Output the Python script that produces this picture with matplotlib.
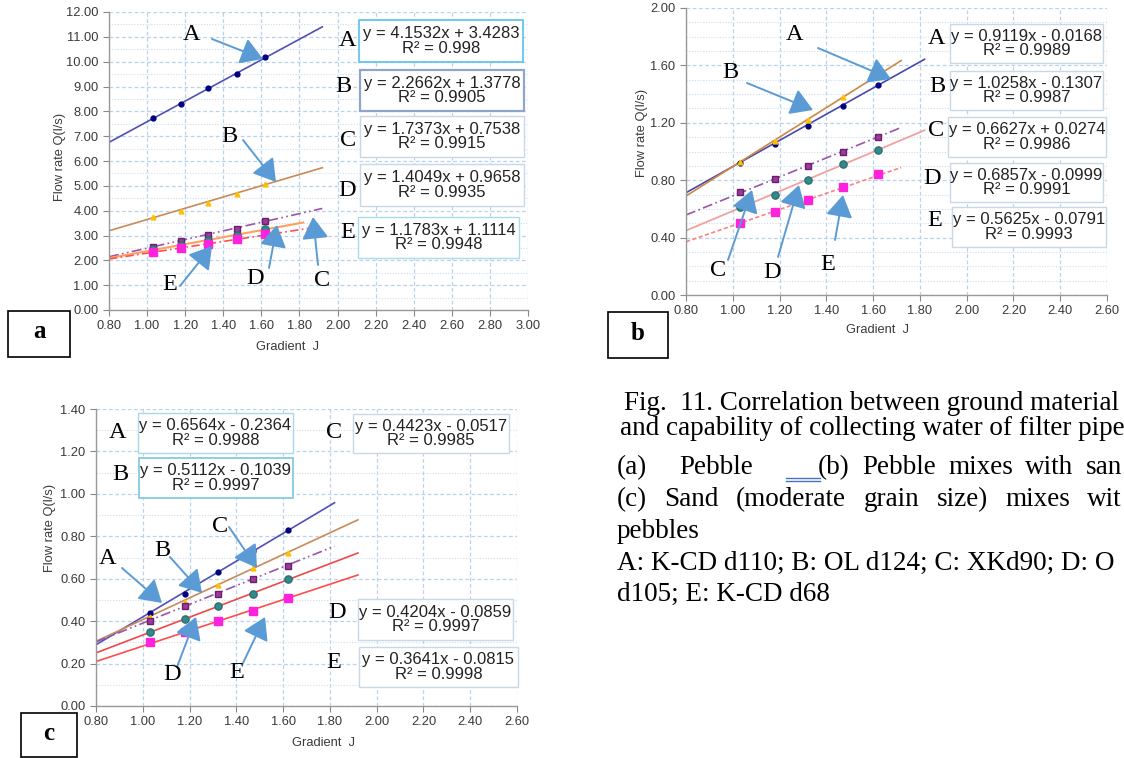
import numpy as np
import matplotlib
matplotlib.use("Agg")
import matplotlib.pyplot as plt
from matplotlib.patches import Rectangle, FancyArrowPatch
from matplotlib.ticker import MultipleLocator, FormatStrFormatter

W, H = 1124, 758
SANS = "Liberation Sans"
SERIF = "Liberation Serif"

# ---------------- data ----------------
series_names = ["A", "B", "C", "D", "E"]
gradient_J = [1.03, 1.18, 1.32, 1.47, 1.62]

# panel a (Pebble)
qa_A = [7.75, 8.28, 8.92, 9.50, 10.17]
qa_B = [3.75, 3.98, 4.30, 4.68, 5.07]
qa_C = [2.55, 2.78, 3.02, 3.28, 3.58]
qa_D = [2.45, 2.62, 2.82, 3.02, 3.25]
qa_E = [2.35, 2.50, 2.65, 2.85, 3.05]
fit_a_slope = [4.1532, 2.2662, 1.7373, 1.4049, 1.1783]
fit_a_icpt = [3.4283, 1.3778, 0.7538, 0.9658, 1.1114]
fit_a_r2 = ["0.998", "0.9905", "0.9915", "0.9935", "0.9948"]

# panel b (Pebble mixes with sand)
qb_A = [0.92, 1.05, 1.18, 1.32, 1.46]
qb_B = [0.93, 1.07, 1.22, 1.38, 1.53]
qb_C = [0.72, 0.81, 0.90, 1.00, 1.10]
qb_D = [0.61, 0.70, 0.80, 0.91, 1.01]
qb_E = [0.50, 0.58, 0.66, 0.75, 0.84]
fit_b_slope = [0.9119, 1.0258, 0.6627, 0.6857, 0.5625]
fit_b_icpt = [-0.0168, -0.1307, 0.0274, -0.0999, -0.0791]
fit_b_r2 = ["0.9989", "0.9987", "0.9986", "0.9991", "0.9993"]

# panel c (Sand mixes with pebbles)
qc_A = [0.44, 0.53, 0.63, 0.73, 0.83]
qc_B = [0.42, 0.49, 0.57, 0.65, 0.72]
qc_C = [0.40, 0.47, 0.53, 0.60, 0.66]
qc_D = [0.35, 0.41, 0.47, 0.53, 0.60]
qc_E = [0.30, 0.35, 0.40, 0.45, 0.51]
fit_c_slope = [0.6564, 0.5112, 0.4423, 0.4204, 0.3641]
fit_c_icpt = [-0.2364, -0.1039, -0.0517, -0.0859, -0.0815]
fit_c_r2 = ["0.9988", "0.9997", "0.9985", "0.9997", "0.9998"]

caption_lines = [
    "Fig.  11. Correlation between ground material",
    "and capability of collecting water of filter pipe",
    "pebbles",
    "A: K-CD d110; B: OL d124; C: XKd90; D: O",
    "d105; E: K-CD d68",
]
caption_line3 = ["(a)", "Pebble", "(b)", "Pebble", "mixes", "with", "san"]
caption_line4 = ["(c)", "Sand", "(moderate", "grain", "size)", "mixes", "wit"]

# ---------------- styles ----------------
marker_style = {
    "A": dict(marker="o", ms=3.5, mfc="#000080", mec="#000080"),
    "B": dict(marker="^", ms=3.5, mfc="#FFC000", mec="#FFC000"),
    "C": dict(marker="s", ms=3.8, mfc="#9B3A9B", mec="#6A1F6A"),
    "D": dict(marker="o", ms=5.2, mfc="#2E8C8C", mec="#2E6E6E"),
    "E": dict(marker="s", ms=5.2, mfc="#FF22DD", mec="#FF22DD"),
}

fig = plt.figure(figsize=(W / 100, H / 100), dpi=100)
fig.patch.set_facecolor("white")


def px_axes(left, top, right, bottom, z=1):
    return fig.add_axes([left / W, 1 - bottom / H, (right - left) / W, (bottom - top) / H], zorder=z)


def eq_text(s, b, r2):
    sign = "+" if b >= 0 else "-"
    return f"y = {s:.4f}x {sign} {abs(b):.4f}\nR\u00b2 = {r2}"


def make_panel(rect, xlim, ylim, ymaj, ymin, series, slopes, icpts, xends, line_styles):
    ax = px_axes(*rect)
    ax.set_xlim(*xlim)
    ax.set_ylim(*ylim)
    ax.xaxis.set_major_locator(MultipleLocator(0.2))
    ax.yaxis.set_major_locator(MultipleLocator(ymaj))
    ax.yaxis.set_minor_locator(MultipleLocator(ymin))
    ax.xaxis.set_major_formatter(FormatStrFormatter("%.2f"))
    ax.yaxis.set_major_formatter(FormatStrFormatter("%.2f"))
    ax.grid(True, which="major", color="#B9D3EC", lw=0.9, ls=(0, (3, 2)))
    ax.grid(True, which="minor", axis="y", color="#CCDDF0", lw=0.8, ls=(0, (1, 1.5)))
    ax.tick_params(which="major", direction="out", length=4, color="#888888",
                   labelsize=9.3, labelcolor="#3A3A3A")
    ax.tick_params(which="minor", length=0)
    for lab in ax.get_xticklabels() + ax.get_yticklabels():
        lab.set_fontfamily(SANS)
    for sp in ["top", "right"]:
        ax.spines[sp].set_visible(False)
    for sp in ["left", "bottom"]:
        ax.spines[sp].set_color("#999999")
        ax.spines[sp].set_linewidth(1.0)
    ax.set_facecolor("white")
    for name, q, s, b, xe in zip(series_names, series, slopes, icpts, xends):
        xx = np.array([xlim[0], xe])
        ax.plot(xx, np.polyval([s, b], xx), **line_styles[name], zorder=2)
        ax.plot(gradient_J, q, ls="none", **marker_style[name], zorder=3)
    return ax


# panel a
styles_a = {
    "A": dict(color="#5050B8", lw=1.2),
    "B": dict(color="#C98A5A", lw=1.2),
    "C": dict(color="#9A55AA", lw=1.2, ls=(0, (6, 2, 1, 2, 1, 2))),
    "D": dict(color="#FFA060", lw=1.5),
    "E": dict(color="#FF5050", lw=1.2, ls=(0, (5, 2, 1, 2))),
}
make_panel((109, 12, 528, 310), (0.8, 3.0), (0, 12), 1.0, 0.5,
           [qa_A, qa_B, qa_C, qa_D, qa_E], fit_a_slope, fit_a_icpt,
           [1.92, 1.92, 1.92, 1.82, 1.92], styles_a)

# panel b
styles_b = {
    "A": dict(color="#4848B0", lw=1.2),
    "B": dict(color="#CC8844", lw=1.2),
    "C": dict(color="#9A55AA", lw=1.2, ls=(0, (6, 2, 1, 2))),
    "D": dict(color="#F2A0A0", lw=1.3),
    "E": dict(color="#FF8080", lw=1.2, ls=(0, (2.5, 1.5))),
}
make_panel((686, 8, 1107, 295), (0.8, 2.6), (0, 2.0), 0.4, 0.1,
           [qb_A, qb_B, qb_C, qb_D, qb_E], fit_b_slope, fit_b_icpt,
           [1.82, 1.72, 1.72, 1.82, 1.72], styles_b)

# panel c
styles_c = {
    "A": dict(color="#5050B8", lw=1.2),
    "B": dict(color="#C98A5A", lw=1.2),
    "C": dict(color="#9A55AA", lw=1.2, ls=(0, (6, 2, 1, 2, 1, 2))),
    "D": dict(color="#EE4848", lw=1.2),
    "E": dict(color="#FF4C4C", lw=1.2),
}
make_panel((96, 409, 517, 706), (0.8, 2.6), (0, 1.4), 0.2, 0.1,
           [qc_A, qc_B, qc_C, qc_D, qc_E], fit_c_slope, fit_c_icpt,
           [1.82, 1.92, 1.82, 1.92, 1.92], styles_c)

# ---------------- overlay (annotations, in pixel coords) ----------------
ov = fig.add_axes([0, 0, 1, 1], zorder=10)
ov.set_xlim(0, W)
ov.set_ylim(H, 0)
ov.axis("off")
ov.patch.set_alpha(0)

ARROW = "#5B9BD5"


def arrow(tail, tip):
    ov.add_patch(FancyArrowPatch(tail, tip, arrowstyle="-|>,head_length=0.9,head_width=0.55",
                                 mutation_scale=15, color=ARROW, lw=1.4, shrinkA=0, shrinkB=0))


def letter(xy, s, size=17.5):
    ov.text(xy[0], xy[1], s, fontsize=size, family=SERIF, ha="center", va="center", color="black")


def eqbox(rect, txt, ec, lw=1.0):
    x0, y0, x1, y1 = rect
    ov.add_patch(Rectangle((x0, y0), x1 - x0, y1 - y0, fc="white", ec=ec, lw=lw))
    ov.text((x0 + x1) / 2, (y0 + y1) / 2, txt, fontsize=12, family=SANS, ha="center",
            va="center", linespacing=0.98, color="#222222")


def panel_tag(rect, s):
    x0, y0, x1, y1 = rect
    ov.add_patch(Rectangle((x0, y0), x1 - x0, y1 - y0, fc="white", ec="black", lw=1.2))
    ov.text((x0 + x1) / 2, (y0 + y1) / 2 - 2, s, fontsize=18, family=SERIF, weight="bold",
            ha="center", va="center")


# arrows + letters: (label pos, tail, tip)
arrows_a = [((192, 35), (212, 39), (263, 59)), ((229, 137), (243, 140), (276, 182)),
            ((322, 280), (318, 265), (313, 217)), ((255, 278), (269, 268), (277, 225)),
            ((170, 285), (180, 286), (212, 246))]
arrows_b = [((795, 35), (818, 48), (891, 79)), ((730, 73), (747, 83), (813, 110)),
            ((718, 270), (728, 260), (752, 190)), ((772, 272), (778, 257), (799, 185)),
            ((828, 265), (835, 240), (843, 195))]
arrows_c = [((108, 558), (122, 568), (162, 603)), ((162, 550), (170, 557), (202, 593)),
            ((220, 527), (229, 527), (257, 568)), ((172, 675), (177, 667), (196, 617)),
            ((237, 672), (243, 663), (265, 617))]
for group in (arrows_a, arrows_b, arrows_c):
    for name, (lab, tail, tip) in zip(series_names, group):
        arrow(tail, tip)
        letter(lab, name)

# equation boxes
boxes_a = [(359, 20, 523, 62), (360, 70, 524, 111), (360, 116, 524, 157),
           (360, 164, 524, 206), (358, 217, 519, 258)]
edges_a = [("#62C6EA", 1.3), ("#8FA6CA", 1.6), ("#C9D7E6", 1.0), ("#C9D7E6", 1.0), ("#A8DCEC", 1.0)]
labs_a = [(348, 40), (343, 87), (348, 140), (347, 190), (348, 233)]
boxes_b = [(950, 24, 1103, 63), (950, 71, 1103, 110), (948, 117, 1106, 157),
           (950, 163, 1103, 202), (952, 207, 1106, 247)]
edges_b = [("#C9D7E6", 1.0)] * 5
labs_b = [(937, 38), (937, 87), (936, 130), (932, 178), (935, 220)]
boxes_c = [(138, 413, 293, 453), (139, 458, 293, 498), (353, 414, 509, 453),
           (358, 599, 513, 640), (359, 647, 518, 687)]
edges_c = [("#A8D8EA", 1.0), ("#86CAE0", 1.3), ("#C9D7E6", 1.0), ("#C9D7E6", 1.0), ("#C9D7E6", 1.0)]
labs_c = [(118, 433), (120, 475), (334, 432), (337, 613), (334, 662)]

for boxes, edges, labs, sl, ic, r2 in [
        (boxes_a, edges_a, labs_a, fit_a_slope, fit_a_icpt, fit_a_r2),
        (boxes_b, edges_b, labs_b, fit_b_slope, fit_b_icpt, fit_b_r2),
        (boxes_c, edges_c, labs_c, fit_c_slope, fit_c_icpt, fit_c_r2)]:
    for name, rect, (ec, lw), lab, s, b, r in zip(series_names, boxes, edges, labs, sl, ic, r2):
        eqbox(rect, eq_text(s, b, r), ec, lw)
        letter(lab, name)

# axis titles
for (x, y) in [(60, 157), (642, 133), (50, 528)]:
    ov.text(x, y, "Flow rate Q(l/s)", rotation=90, fontsize=9.3, family=SANS, color="#3A3A3A",
            ha="center", va="center")
for (x, y) in [(288, 347), (878, 330), (323, 743)]:
    ov.text(x, y, "Gradient  J", fontsize=9.3, family=SANS, color="#3A3A3A", ha="center", va="center")

# panel tags
panel_tag((8, 311, 70, 357), "a")
panel_tag((608, 312, 668, 358), "b")
panel_tag((21, 713, 77, 757), "c")

# caption
CAP = 19.5
renderer = fig.canvas.get_renderer()


def word_width(word):
    t = ov.text(0, 0, word, fontsize=CAP, family=SERIF)
    w = t.get_window_extent(renderer=renderer).width
    t.remove()
    return w


def justify(words, x_start, x_end, y):
    widths = [word_width(w) for w in words]
    gap = (x_end - x_start - sum(widths)) / max(len(words) - 1, 1)
    x = x_start
    for w, wd in zip(words, widths):
        ov.text(x, y, w, fontsize=CAP, family=SERIF, ha="left", va="baseline")
        x += wd + gap


ov.text(624, 410, caption_lines[0], fontsize=CAP, family=SERIF, ha="left", va="baseline")
ov.text(620, 435, caption_lines[1], fontsize=CAP, family=SERIF, ha="left", va="baseline")

# line 3: "(a)  Pebble  ___(b)" fixed, rest justified to the right edge
for word, x in zip(caption_line3[:2], [617, 679]):
    ov.text(x, 474, word, fontsize=CAP, family=SERIF, ha="left", va="baseline")
ov.plot([786, 820], [478, 478], color="#4472C4", lw=1.0)
ov.plot([786, 820], [480.5, 480.5], color="#4472C4", lw=1.0)
justify(caption_line3[2:], 818, 1122, 474)
justify(caption_line4, 617, 1122, 506)

ov.text(617, 538, caption_lines[2], fontsize=CAP, family=SERIF, ha="left", va="baseline")
ov.text(617, 570, caption_lines[3], fontsize=CAP, family=SERIF, ha="left", va="baseline")
ov.text(617, 601, caption_lines[4], fontsize=CAP, family=SERIF, ha="left", va="baseline")

fig.savefig("out.png", dpi=100, facecolor="white")
